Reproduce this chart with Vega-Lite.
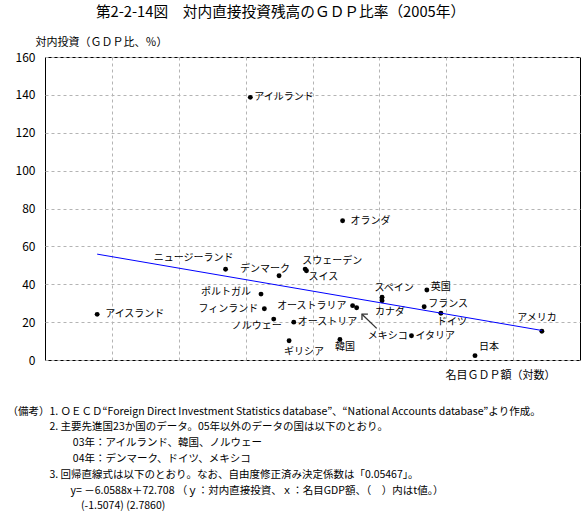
{
  "$schema": "https://vega.github.io/schema/vega-lite/v6.json",
  "width": 535,
  "height": 303,
  "autosize": {"type": "none"},
  "padding": {"left": 45, "top": 57, "right": 7, "bottom": 154},
  "background": "white",
  "title": {
    "text": "第2-2-14図　対内直接投資残高のＧＤＰ比率（2005年）",
    "anchor": "middle", "frame": "group", "dx": -32, "offset": 16,
    "fontSize": 14.7, "fontWeight": "normal", "font": "Noto Sans CJK JP", "color": "black"
  },
  "config": {
    "font": "Noto Sans CJK JP",
    "view": {"stroke": "black", "strokeWidth": 1},
    "text": {"font": "Noto Sans CJK JP", "fontSize": 10, "color": "black"}
  },
  "datasets": {
    "countries": [
      {"name": "アイスランド", "gdp": 2.78, "fdi": 24.1},
      {"name": "アイルランド", "gdp": 5.07, "fdi": 138.7},
      {"name": "ニュージーランド", "gdp": 4.70, "fdi": 47.9},
      {"name": "デンマーク", "gdp": 5.50, "fdi": 44.5},
      {"name": "スウェーデン", "gdp": 5.89, "fdi": 48.0},
      {"name": "スイス", "gdp": 5.91, "fdi": 47.1},
      {"name": "オランダ", "gdp": 6.45, "fdi": 73.5},
      {"name": "スペイン", "gdp": 7.04, "fdi": 33.1},
      {"name": "カナダ", "gdp": 7.04, "fdi": 31.3},
      {"name": "英国", "gdp": 7.71, "fdi": 37.0},
      {"name": "フランス", "gdp": 7.67, "fdi": 28.1},
      {"name": "ドイツ", "gdp": 7.92, "fdi": 24.7},
      {"name": "アメリカ", "gdp": 9.43, "fdi": 15.2},
      {"name": "オーストラリア", "gdp": 6.60, "fdi": 28.7},
      {"name": "メキシコ", "gdp": 6.66, "fdi": 27.6},
      {"name": "イタリア", "gdp": 7.48, "fdi": 12.8},
      {"name": "日本", "gdp": 8.43, "fdi": 2.3},
      {"name": "韓国", "gdp": 6.41, "fdi": 10.8},
      {"name": "ギリシア", "gdp": 5.65, "fdi": 10.2},
      {"name": "ポルトガル", "gdp": 5.23, "fdi": 34.8},
      {"name": "フィンランド", "gdp": 5.28, "fdi": 27.1},
      {"name": "ノルウェー", "gdp": 5.42, "fdi": 21.6},
      {"name": "オーストリア", "gdp": 5.72, "fdi": 20.0}
    ],
    "reg": [
      {"gdp": 2.78, "fdi": 55.9},
      {"gdp": 9.43, "fdi": 15.6}
    ],
    "arrow": [
      {"gdp": 6.96, "fdi": 16.7, "gdp2": 6.74, "fdi2": 24.2}
    ]
  },
  "layer": [
    {
      "data": {"name": "countries"},
      "encoding": {
        "x": {
          "field": "gdp", "type": "quantitative",
          "scale": {"domain": [2, 10], "nice": false, "zero": false},
          "axis": {
            "title": "名目ＧＤＰ額（対数）", "titleX": 510, "titleY": 15,
            "titleAlign": "right", "titleBaseline": "middle",
            "titleFontSize": 11, "titleFontWeight": "normal", "titleColor": "black", "titleFont": "Noto Sans CJK JP",
            "labels": false, "ticks": false, "domain": false,
            "grid": true, "values": [3, 4, 5, 6, 7, 8, 9],
            "gridColor": "#b4b4b4", "gridDash": [3, 3], "gridWidth": 1
          }
        },
        "y": {
          "field": "fdi", "type": "quantitative",
          "scale": {"domain": [0, 160], "nice": false},
          "axis": {
            "title": "対内投資（ＧＤＰ比、％）", "titleAngle": 0, "titleAlign": "left",
            "titleX": -10, "titleY": -15, "titleBaseline": "middle",
            "titleFontSize": 11, "titleFontWeight": "normal", "titleColor": "black", "titleFont": "Noto Sans CJK JP",
            "values": [0, 20, 40, 60, 80, 100, 120, 140, 160],
            "grid": true, "gridColor": "#b4b4b4", "gridDash": [3, 3], "gridWidth": 1,
            "domain": false, "ticks": false, "tickSize": 0, "labelPadding": 10,
            "labelFontSize": 12, "labelColor": "black", "labelFont": "Noto Sans CJK JP"
          }
        }
      },
      "layer": [
        {
          "data": {"name": "arrow"},
          "mark": {"type": "rule", "color": "#333333", "strokeWidth": 1.3},
          "encoding": {
            "x2": {"field": "gdp2"},
            "y2": {"field": "fdi2"}
          }
        },
        {
          "data": {"name": "arrow"},
          "mark": {"type": "point", "shape": "M -1 1 L 0 0 L 1 1", "angle": -45, "size": 70, "filled": false, "color": "#333333", "strokeWidth": 1.3, "opacity": 1},
          "encoding": {
            "x": {"field": "gdp2", "type": "quantitative"},
            "y": {"field": "fdi2", "type": "quantitative"}
          }
        },
        {
          "mark": {"type": "circle", "size": 24, "color": "black", "opacity": 1}
        },
        {
          "transform": [{"filter": {"field": "name", "oneOf": ["アイスランド", "オランダ"]}}],
          "mark": {"type": "text", "align": "left", "dx": 8, "dy": 0},
          "encoding": {"text": {"field": "name"}}
        },
        {
          "transform": [{"filter": {"field": "name", "oneOf": ["アイルランド", "イタリア", "オーストリア"]}}],
          "mark": {"type": "text", "align": "left", "dx": 4, "dy": 0},
          "encoding": {"text": {"field": "name"}}
        },
        {
          "transform": [{"filter": {"field": "name", "oneOf": ["英国", "フランス"]}}],
          "mark": {"type": "text", "align": "left", "dx": 4, "dy": -3},
          "encoding": {"text": {"field": "name"}}
        },
        {
          "transform": [{"filter": {"field": "name", "oneOf": ["日本"]}}],
          "mark": {"type": "text", "align": "left", "dx": 4, "dy": -9},
          "encoding": {"text": {"field": "name"}}
        },
        {
          "transform": [{"filter": {"field": "name", "oneOf": ["オーストラリア", "フィンランド"]}}],
          "mark": {"type": "text", "align": "right", "dx": -6, "dy": 0},
          "encoding": {"text": {"field": "name"}}
        },
        {
          "transform": [{"filter": {"field": "name", "oneOf": ["ポルトガル"]}}],
          "mark": {"type": "text", "align": "right", "dx": -10, "dy": -2},
          "encoding": {"text": {"field": "name"}}
        },
        {
          "transform": [{"filter": {"field": "name", "oneOf": ["ニュージーランド"]}}],
          "mark": {"type": "text", "align": "right", "dx": 8, "dy": -11},
          "encoding": {"text": {"field": "name"}}
        },
        {
          "transform": [{"filter": {"field": "name", "oneOf": ["デンマーク"]}}],
          "mark": {"type": "text", "align": "center", "dx": -14, "dy": -7},
          "encoding": {"text": {"field": "name"}}
        },
        {
          "transform": [{"filter": {"field": "name", "oneOf": ["アメリカ"]}}],
          "mark": {"type": "text", "align": "center", "dx": -5, "dy": -13},
          "encoding": {"text": {"field": "name"}}
        },
        {
          "transform": [{"filter": {"field": "name", "oneOf": ["スペイン"]}}],
          "mark": {"type": "text", "align": "center", "dx": 12, "dy": -9},
          "encoding": {"text": {"field": "name"}}
        },
        {
          "transform": [{"filter": {"field": "name", "oneOf": ["スウェーデン"]}}],
          "mark": {"type": "text", "align": "left", "dx": -3, "dy": -8},
          "encoding": {"text": {"field": "name"}}
        },
        {
          "transform": [{"filter": {"field": "name", "oneOf": ["スイス"]}}],
          "mark": {"type": "text", "align": "left", "dx": 2, "dy": 6},
          "encoding": {"text": {"field": "name"}}
        },
        {
          "transform": [{"filter": {"field": "name", "oneOf": ["カナダ"]}}],
          "mark": {"type": "text", "align": "left", "dx": -7, "dy": 11},
          "encoding": {"text": {"field": "name"}}
        },
        {
          "transform": [{"filter": {"field": "name", "oneOf": ["ドイツ"]}}],
          "mark": {"type": "text", "align": "left", "dx": -4, "dy": 9},
          "encoding": {"text": {"field": "name"}}
        },
        {
          "transform": [{"filter": {"field": "name", "oneOf": ["韓国"]}}],
          "mark": {"type": "text", "align": "center", "dx": 5, "dy": 7},
          "encoding": {"text": {"field": "name"}}
        },
        {
          "transform": [{"filter": {"field": "name", "oneOf": ["ギリシア"]}}],
          "mark": {"type": "text", "align": "center", "dx": 15, "dy": 11},
          "encoding": {"text": {"field": "name"}}
        },
        {
          "transform": [{"filter": {"field": "name", "oneOf": ["ノルウェー"]}}],
          "mark": {"type": "text", "align": "right", "dx": 8, "dy": 7},
          "encoding": {"text": {"field": "name"}}
        },
        {
          "transform": [{"filter": {"field": "name", "oneOf": ["メキシコ"]}}],
          "mark": {"type": "text", "align": "left", "dx": 11, "dy": 28},
          "encoding": {"text": {"field": "name"}}
        }
      ]
    },
    {
      "data": {"name": "reg"},
      "mark": {"type": "line", "color": "#0000ff", "strokeWidth": 1},
      "encoding": {
        "x": {"field": "gdp", "type": "quantitative", "scale": {"domain": [2, 10], "nice": false, "zero": false}},
        "y": {
          "field": "fdi", "type": "quantitative",
          "scale": {"domain": [0, 160], "nice": false},
          "axis": {
            "orient": "right",
            "title": [
              "（備考）1. ＯＥＣＤ“Foreign Direct Investment Statistics database”、“National Accounts database”より作成。",
              "\u200b　　　　2. 主要先進国23か国のデータ。05年以外のデータの国は以下のとおり。",
              "\u200b　　　　　　 03年：アイルランド、韓国、ノルウェー",
              "\u200b　　　　　　 04年：デンマーク、ドイツ、メキシコ",
              "\u200b　　　　3. 回帰直線式は以下のとおり。なお、自由度修正済み決定係数は「0.05467」。",
              "\u200b　　　　　　y= －6.0588x＋72.708 （ｙ：対内直接投資、ｘ：名目GDP額、（　）内はt値。）",
              "\u200b　　　　　　　(-1.5074) (2.7860)"
            ],
            "titleAngle": 0, "titleAlign": "left", "titleBaseline": "top",
            "titleX": -573, "titleY": 349, "titleLineHeight": 15.8,
            "titleFontSize": 10.5, "titleFontWeight": "normal", "titleColor": "black", "titleFont": "Noto Sans CJK JP",
            "labels": false, "ticks": false, "domain": false, "grid": false
          }
        }
      }
    }
  ],
  "resolve": {"scale": {"y": "independent"}, "axis": {"y": "independent"}}
}
